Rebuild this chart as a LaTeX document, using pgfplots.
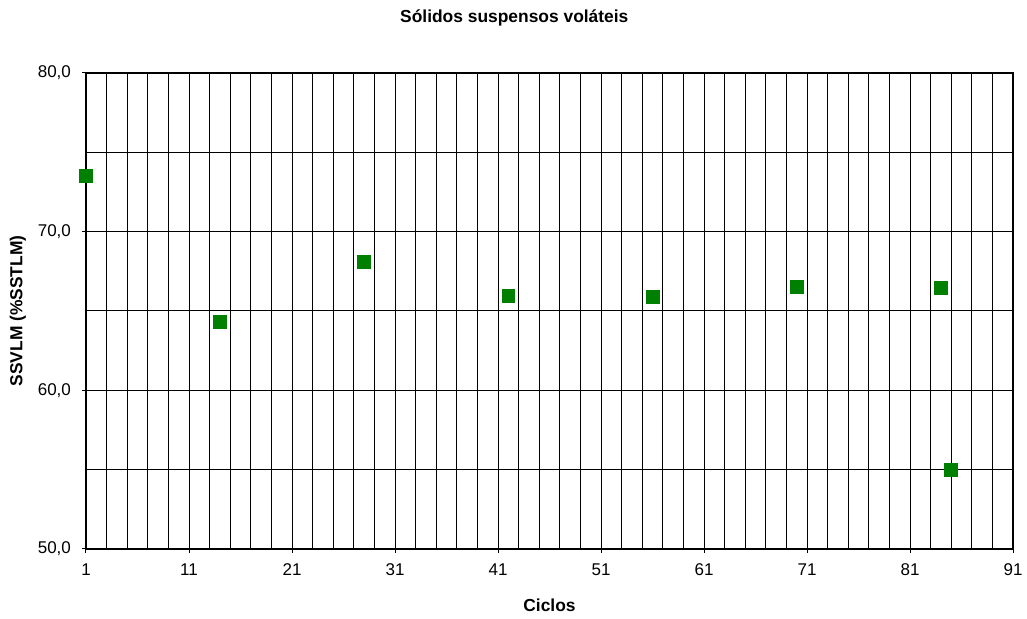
\documentclass[border=0pt]{standalone}
\usepackage{fontspec}
\setmainfont{Liberation Sans}
\usepackage{pgfplots}
\pgfplotsset{compat=1.18}
\definecolor{markgreen}{RGB}{0,128,0}

\begin{document}
\begin{tikzpicture}
% page frame: 1027x619 px at 0.5pt per px
\useasboundingbox (0,0) rectangle (513.5pt,309.5pt);
\begin{axis}[%
width=463.5pt,
height=238pt,
scale only axis,
at={(43pt,35pt)},
anchor=south west,
clip=false,
xmin=1, xmax=91,
ymin=50, ymax=80,
xtick={1,11,...,91},
minor xtick={3,5,...,89},
ytick={50,60,70,80},
minor ytick={55,65,75},
grid=both,
major grid style={black, line width=0.5pt},
minor grid style={black, line width=0.5pt},
axis line style={black, line width=0.6pt},
tick style={black, line width=0.5pt},
tick align=outside,
major tick length=2pt,
minor tick length=0pt,
xtick pos=bottom,
ytick pos=left,
/pgf/number format/assume math mode=true,
ticklabel style={font=\fontsize{8.5}{10}\selectfont},
xticklabel style={yshift=-2pt},
yticklabel style={xshift=-2pt,
  /pgf/number format/.cd, fixed, fixed zerofill, precision=1, use comma},
xticklabel={\pgfmathprintnumber[int detect]{\tick}},
title={Sólidos suspensos voláteis},
every axis title/.style={at={(axis description cs:0.462,1.1155)}, anchor=center,
  font=\fontsize{8.7}{10}\selectfont\bfseries},
xlabel={Ciclos},
xlabel style={at={(axis description cs:0.5,-0.1176)}, anchor=center,
  font=\fontsize{8.7}{10}\selectfont\bfseries},
ylabel={SSVLM (\%SSTLM)},
ylabel style={at={(axis description cs:-0.0734,0.5)}, anchor=center,
  font=\fontsize{8.7}{10}\selectfont\bfseries},
]
\addplot[only marks, mark=square*, mark size=3.2pt,
  mark options={fill=markgreen, draw=markgreen}]
table[row sep=crcr] {%
x	y\\
1	73.5\\
14	64.3\\
28	68.1\\
42	65.95\\
56	65.9\\
70	66.5\\
84	66.45\\
85	55.0\\
};
\end{axis}
\end{tikzpicture}
\end{document}
